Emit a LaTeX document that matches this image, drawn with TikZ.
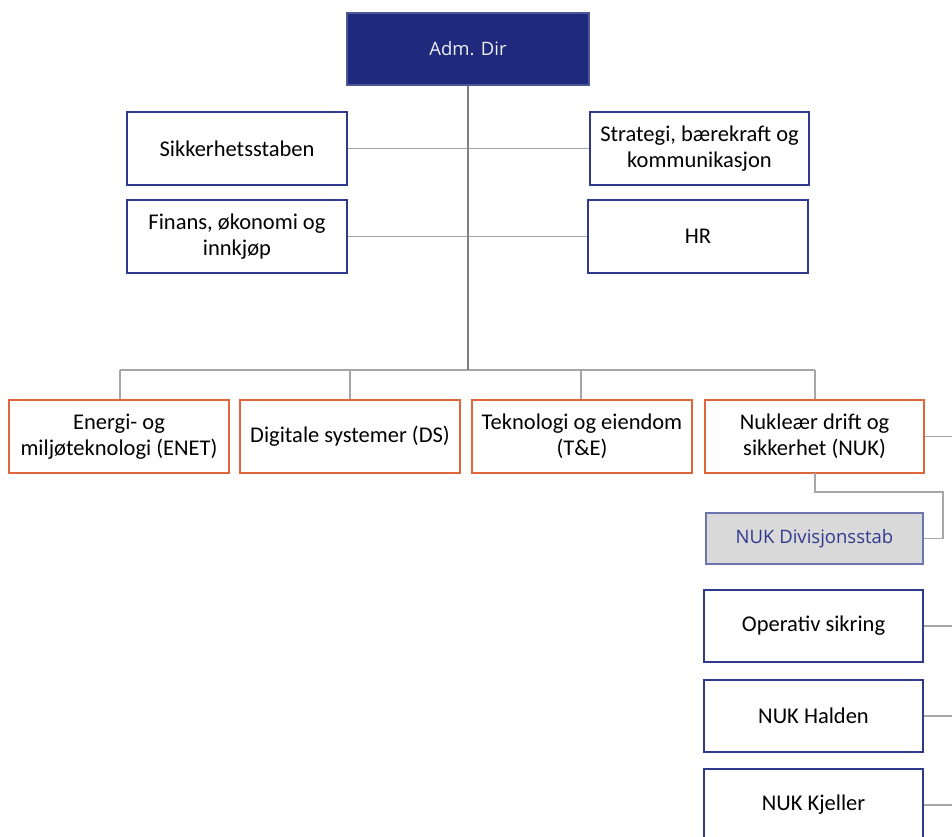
\documentclass[tikz,border=0pt]{standalone}
\usepackage{fontspec}
\setmainfont{Carlito}
\newfontfamily\segoe{Open Sans}
\definecolor{navy}{HTML}{1F2A7C}
\definecolor{bordblue}{HTML}{2F3A8E}
\definecolor{orng}{HTML}{E0643C}
\definecolor{lgray}{HTML}{A6A6A6}
\definecolor{dgray}{HTML}{7F7F7F}
\definecolor{boxgray}{HTML}{D9D9D9}
\begin{document}
\begin{tikzpicture}[x=1pt,y=-1pt,
  base/.style={rectangle, line width=2pt, minimum width=220pt, minimum height=73pt, align=center, inner sep=2pt, font=\fontsize{22.5}{26}\selectfont, text=black},
  staff/.style={base, draw=bordblue, fill=white},
  div/.style={base, draw=orng, fill=white},
  conn/.style={draw=lgray, line width=1.3pt},
  trunk/.style={draw=dgray, line width=2.5pt}]
\useasboundingbox (0,0) rectangle (952,836);
\fill[white] (0,0) rectangle (952,836);
% top
\node[base, draw=navy!80, fill=navy, minimum width=242pt, minimum height=72pt, text=white!92!navy, font=\segoe\fontsize{18.5}{22}\selectfont] (adm) at (468,49) {Adm. Dir};
% staff
\node[staff] (sik) at (237,148.5) {Sikkerhetsstaben};
\node[staff, minimum width=219pt] (str) at (699.5,148.5) {Strategi, bærekraft og\\kommunikasjon};
\node[staff] (fin) at (237,236.5) {Finans, økonomi og\\innkjøp};
\node[staff] (hr) at (698,236.5) {HR};
% divisions
\node[div] (enet) at (119,436.5) {Energi- og\\miljøteknologi (ENET)};
\node[div] (ds) at (350,436.5) {Digitale systemer (DS)};
\node[div] (te) at (582,436.5) {Teknologi og eiendom\\(T\&E)};
\node[div, minimum width=219pt] (nuk) at (814.5,436.5) {Nukleær drift og\\sikkerhet (NUK)};
% NUK units
\node[base, draw=bordblue!70, line width=1.5pt, fill=boxgray, minimum width=217pt, minimum height=51pt, text=bordblue, font=\segoe\fontsize{18.5}{22}\selectfont] (divst) at (814.5,538.5) {NUK Divisjonsstab};
\node[staff, minimum width=219pt, minimum height=72pt] (ops) at (813.5,626) {Operativ sikring};
\node[staff, minimum width=219pt, minimum height=72pt] (hal) at (813.5,716) {NUK Halden};
\node[staff, minimum width=219pt, minimum height=72pt] (kje) at (813.5,805) {NUK Kjeller};
% coordinates
\coordinate (busc) at (468,370);
\coordinate (busl) at (120,370);
\coordinate (busr) at (815,370);
\coordinate (busds) at (350,370);
\coordinate (buste) at (581,370);
\coordinate (nukout) at (952,436.5);
\coordinate (nukdown) at (815,473);
\coordinate (bend) at (943,492);
\coordinate (opsout) at (952,626);
\coordinate (halout) at (952,716);
\coordinate (kjeout) at (952,805);
% connectors
\draw[conn] (sik.east) -- (str.west);
\draw[conn] (fin.east) -- (hr.west);
\draw[conn] (busl) -- (busr);
\draw[conn] (busl) -- (busl |- enet.north);
\draw[conn] (busds) -- (ds.north);
\draw[conn] (buste) -- (buste |- te.north);
\draw[conn] (busr) -- (busr |- nuk.north);
\draw[trunk] (adm.south) -- (busc);
\draw[conn] (nuk.east) -- (nukout);
\draw[conn] (nukdown) |- (bend) |- (divst.east);
\draw[conn] (ops.east) -- (opsout);
\draw[conn] (hal.east) -- (halout);
\draw[conn] (kje.east) -- (kjeout);
\end{tikzpicture}
\end{document}
